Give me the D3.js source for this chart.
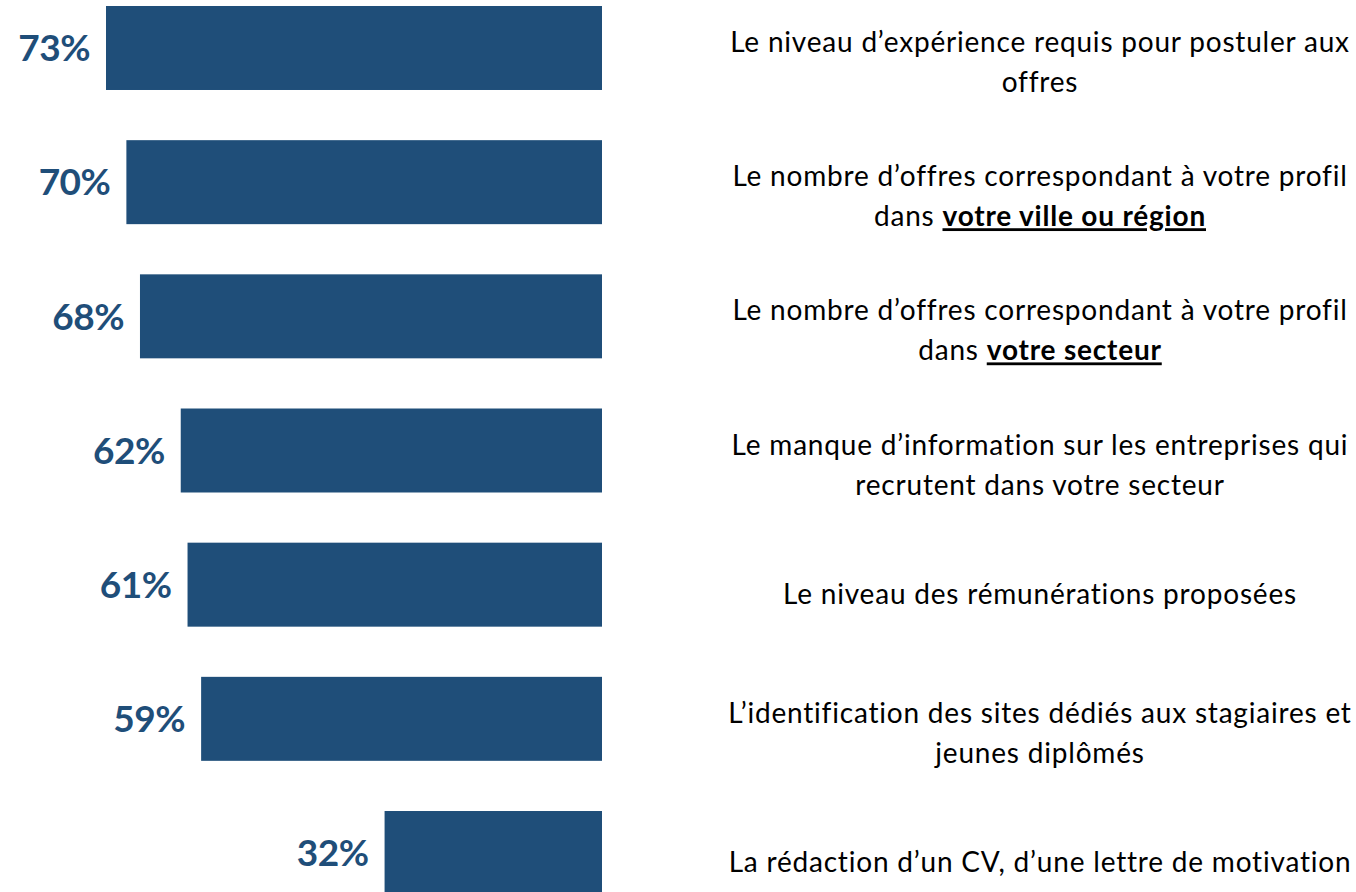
<!DOCTYPE html>
<html>
<head>
<meta charset="utf-8">
<script src="https://cdn.jsdelivr.net/npm/d3@7"></script>
<style>
  html, body { margin: 0; padding: 0; background: #fff; overflow: hidden; }
  svg { display: block; }
</style>
</head>
<body>
<svg width="1356" height="892"></svg>
<script>
// values
const categories = ['exp', 'ville', 'secteur', 'info', 'remu', 'sites', 'cv'];
const values = [73, 70, 68, 62, 61, 59, 32];
// each label: list of lines, each line a list of [text, emphasised]
const labels = [
  [[['Le niveau d’expérience requis pour postuler aux', false]], [['offres', false]]],
  [[['Le nombre d’offres correspondant à votre profil', false]], [['dans ', false], ['votre ville ou région', true]]],
  [[['Le nombre d’offres correspondant à votre profil', false]], [['dans ', false], ['votre secteur', true]]],
  [[['Le manque d’information sur les entreprises qui', false]], [['recrutent dans votre secteur', false]]],
  [[['Le niveau des rémunérations proposées', false]]],
  [[['L’identification des sites dédiés aux stagiaires et', false]], [['jeunes diplômés', false]]],
  [[['La rédaction d’un CV, d’une lettre de motivation', false]]]
];

const svg = d3.select('svg');
const barColor = '#1f4e79';
const font = 'Lato, "Open Sans", sans-serif';

const x = d3.scaleLinear()
  .domain([0, 73])
  .range([602, 106]);

const y = d3.scaleBand()
  .domain(categories)
  .range([6, 895])
  .paddingInner(0.374)
  .paddingOuter(0);

svg.append('g')
  .selectAll('rect')
  .data(values)
  .join('rect')
    .attr('x', d => x(d))
    .attr('y', (d, i) => y(categories[i]))
    .attr('width', d => x(0) - x(d))
    .attr('height', y.bandwidth())
    .attr('fill', barColor);

svg.append('g')
  .selectAll('text')
  .data(values)
  .join('text')
    .attr('x', d => x(d) - 16)
    .attr('y', (d, i) => y(categories[i]) + y.bandwidth() / 2)
    .attr('dy', '0.36em')
    .attr('text-anchor', 'end')
    .attr('font-family', font)
    .attr('font-weight', 700)
    .attr('font-size', 37)
    .attr('letter-spacing', -0.5)
    .attr('fill', barColor)
    .text(d => d + '%');

// right-hand descriptions
const textX = 1040;
const lineH = 40;
const desc = svg.append('g')
  .attr('font-family', font)
  .attr('font-size', 28)
  .attr('letter-spacing', 0.8)
  .attr('fill', '#000')
  .attr('text-anchor', 'middle');

labels.forEach((lines, i) => {
  const cy = y(categories[i]) + y.bandwidth() / 2;
  const first = lines.length === 1 ? cy + 9 : cy - 6;
  lines.forEach((parts, j) => {
    const t = desc.append('text')
      .attr('x', textX)
      .attr('y', first + j * lineH)
      .attr('dy', '0.36em');
    parts.forEach(([s, strong]) => {
      const ts = t.append('tspan').text(s);
      if (strong) {
        ts.attr('font-weight', 700)
          .style('text-decoration', 'underline');
      }
    });
  });
});
</script>
</body>
</html>
